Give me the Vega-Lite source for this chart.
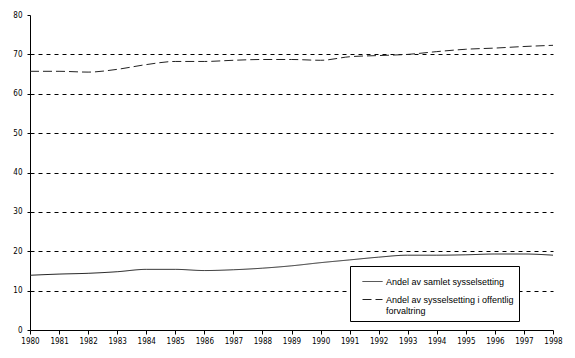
{
  "$schema": "https://vega.github.io/schema/vega-lite/v6.json",
  "width": 523,
  "height": 315,
  "autosize": {"type": "none"},
  "padding": {"left": 30, "top": 15, "right": 22, "bottom": 28},
  "background": "white",
  "config": {
    "view": {"stroke": null},
    "axis": {"labelFont": "Liberation Sans Narrow, DejaVu Sans Condensed, Liberation Sans", "labelFontSize": 8, "labelColor": "black", "domainColor": "black", "tickColor": "black", "title": null}
  },
  "data": {
    "values": [
      {"year": 1980, "series": "Andel av samlet sysselsetting", "value": 13.9},
      {"year": 1981, "series": "Andel av samlet sysselsetting", "value": 14.2},
      {"year": 1982, "series": "Andel av samlet sysselsetting", "value": 14.4},
      {"year": 1983, "series": "Andel av samlet sysselsetting", "value": 14.8},
      {"year": 1984, "series": "Andel av samlet sysselsetting", "value": 15.4},
      {"year": 1985, "series": "Andel av samlet sysselsetting", "value": 15.4},
      {"year": 1986, "series": "Andel av samlet sysselsetting", "value": 15.1},
      {"year": 1987, "series": "Andel av samlet sysselsetting", "value": 15.3},
      {"year": 1988, "series": "Andel av samlet sysselsetting", "value": 15.7},
      {"year": 1989, "series": "Andel av samlet sysselsetting", "value": 16.3},
      {"year": 1990, "series": "Andel av samlet sysselsetting", "value": 17.1},
      {"year": 1991, "series": "Andel av samlet sysselsetting", "value": 17.8},
      {"year": 1992, "series": "Andel av samlet sysselsetting", "value": 18.5},
      {"year": 1993, "series": "Andel av samlet sysselsetting", "value": 19.0},
      {"year": 1994, "series": "Andel av samlet sysselsetting", "value": 19.0},
      {"year": 1995, "series": "Andel av samlet sysselsetting", "value": 19.1},
      {"year": 1996, "series": "Andel av samlet sysselsetting", "value": 19.3},
      {"year": 1997, "series": "Andel av samlet sysselsetting", "value": 19.3},
      {"year": 1998, "series": "Andel av samlet sysselsetting", "value": 19.0},
      {"year": 1980, "series": "Andel av sysselsetting i offentlig forvaltring", "value": 65.7},
      {"year": 1981, "series": "Andel av sysselsetting i offentlig forvaltring", "value": 65.7},
      {"year": 1982, "series": "Andel av sysselsetting i offentlig forvaltring", "value": 65.5},
      {"year": 1983, "series": "Andel av sysselsetting i offentlig forvaltring", "value": 66.2},
      {"year": 1984, "series": "Andel av sysselsetting i offentlig forvaltring", "value": 67.4},
      {"year": 1985, "series": "Andel av sysselsetting i offentlig forvaltring", "value": 68.2},
      {"year": 1986, "series": "Andel av sysselsetting i offentlig forvaltring", "value": 68.2},
      {"year": 1987, "series": "Andel av sysselsetting i offentlig forvaltring", "value": 68.5},
      {"year": 1988, "series": "Andel av sysselsetting i offentlig forvaltring", "value": 68.7},
      {"year": 1989, "series": "Andel av sysselsetting i offentlig forvaltring", "value": 68.7},
      {"year": 1990, "series": "Andel av sysselsetting i offentlig forvaltring", "value": 68.5},
      {"year": 1991, "series": "Andel av sysselsetting i offentlig forvaltring", "value": 69.4},
      {"year": 1992, "series": "Andel av sysselsetting i offentlig forvaltring", "value": 69.7},
      {"year": 1993, "series": "Andel av sysselsetting i offentlig forvaltring", "value": 70.0},
      {"year": 1994, "series": "Andel av sysselsetting i offentlig forvaltring", "value": 70.7},
      {"year": 1995, "series": "Andel av sysselsetting i offentlig forvaltring", "value": 71.3},
      {"year": 1996, "series": "Andel av sysselsetting i offentlig forvaltring", "value": 71.6},
      {"year": 1997, "series": "Andel av sysselsetting i offentlig forvaltring", "value": 72.0},
      {"year": 1998, "series": "Andel av sysselsetting i offentlig forvaltring", "value": 72.3}
    ]
  },
  "mark": {"type": "line", "strokeWidth": 1, "interpolate": "monotone"},
  "encoding": {
    "x": {
      "field": "year", "type": "quantitative",
      "scale": {"domain": [1980, 1998], "nice": false, "zero": false},
      "axis": {"values": [1980,1981,1982,1983,1984,1985,1986,1987,1988,1989,1990,1991,1992,1993,1994,1995,1996,1997,1998], "format": "d", "grid": false, "tickSize": 4, "labelPadding": 3, "labelFlush": false, "labelOverlap": false}
    },
    "y": {
      "field": "value", "type": "quantitative",
      "scale": {"domain": [0, 80], "nice": false},
      "axis": {"values": [0,10,20,30,40,50,60,70,80], "grid": true, "gridDash": [4, 4], "gridColor": {"condition": {"test": "datum.value == 80 || datum.value == 0", "value": "transparent"}, "value": "black"}, "gridWidth": 1, "tickSize": 3, "labelPadding": 5}
    },
    "color": {
      "field": "series", "type": "nominal",
      "scale": {"range": ["#222222", "#222222"]},
      "legend": {
        "title": null, "orient": "none", "legendX": 320, "legendY": 251,
        "strokeColor": "black", "fillColor": "white", "padding": 5,
        "symbolType": "stroke", "symbolSize": 400, "symbolStrokeWidth": 1, "symbolOffset": 7,
        "labelFont": "Liberation Sans", "labelFontSize": 9, "labelColor": "black", "labelLimit": 300,
        "rowPadding": 2, "labelOffset": 3,
        "labelExpr": "datum.label == 'Andel av sysselsetting i offentlig forvaltring' ? ['Andel av sysselsetting i offentlig\u00a0\u00a0\u00a0\u00a0\u00a0', 'forvaltring'] : datum.label"
      }
    },
    "strokeDash": {
      "field": "series", "type": "nominal",
      "scale": {"range": [[1, 0], [9, 4]]},
      "legend": null
    }
  }
}
